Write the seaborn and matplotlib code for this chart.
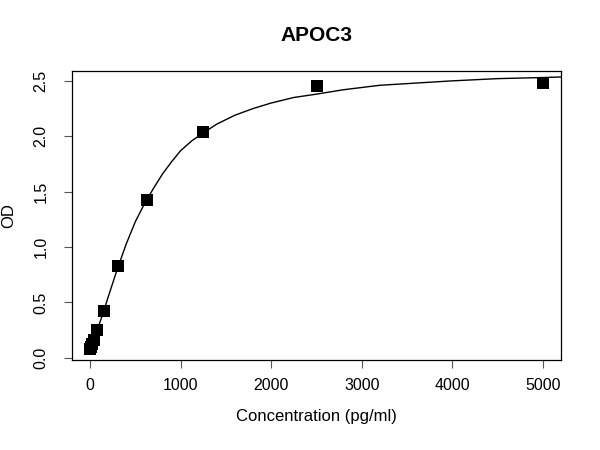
import matplotlib
matplotlib.use("Agg")
import matplotlib.pyplot as plt
import seaborn as sns
import pandas as pd

# standard points (pg/ml) and measured OD
conc = [0, 9.77, 19.53, 39.06, 78.13, 156.25, 312.5, 625, 1250, 2500, 5000]
od = [0.08, 0.10, 0.12, 0.16, 0.25, 0.42, 0.83, 1.42, 2.04, 2.45, 2.48]

# fitted curve
curve_x = [0, 50, 100, 150, 200, 300, 400, 500, 600, 700, 800, 900, 1000,
           1125, 1250, 1400, 1600, 1800, 2000, 2250, 2500, 2800, 3200, 3600,
           4000, 4500, 5000, 5200]
curve_y = [0.08, 0.19, 0.30, 0.42, 0.55, 0.80, 1.03, 1.23, 1.39, 1.53, 1.66,
           1.77, 1.87, 1.96, 2.03, 2.11, 2.19, 2.25, 2.30, 2.35, 2.38, 2.42,
           2.46, 2.48, 2.50, 2.52, 2.53, 2.535]

x_ticks = [0, 1000, 2000, 3000, 4000, 5000]
y_ticks = [0.0, 0.5, 1.0, 1.5, 2.0, 2.5]

sns.set_style("ticks")
plt.rcParams["font.family"] = ["Liberation Sans", "DejaVu Sans"]
plt.rcParams["text.color"] = "black"
plt.rcParams["axes.labelcolor"] = "black"
plt.rcParams["xtick.color"] = "black"
plt.rcParams["ytick.color"] = "black"

pts = pd.DataFrame({"conc": conc, "od": od})
fit = pd.DataFrame({"conc": curve_x, "od": curve_y})

fig = plt.figure(figsize=(6, 4.5), dpi=100)
ax = fig.add_axes([0.12, 0.201, 0.815, 0.641])

sns.lineplot(data=fit, x="conc", y="od", ax=ax, color="black", linewidth=1,
             sort=False, estimator=None)
sns.scatterplot(data=pts, x="conc", y="od", ax=ax, marker="s", s=64,
                color="black", edgecolor="black", linewidth=0, zorder=3)

ax.set_xlim(-200, 5200)
ax.set_ylim(-0.016, 2.588)
ax.set_xticks(x_ticks)
ax.set_xticklabels([str(v) for v in x_ticks])
ax.set_yticks(y_ticks)
ax.set_yticklabels([f"{v:.1f}" for v in y_ticks], rotation=90, va="center")

for sp in ax.spines.values():
    sp.set_visible(True)
    sp.set_color("black")
    sp.set_linewidth(0.9)

ax.tick_params(axis="both", length=6, width=0.8, color="#555555",
               labelcolor="black", labelsize=11.5, direction="out")
ax.tick_params(axis="x", pad=7)
ax.tick_params(axis="y", pad=11)

ax.set_xlabel("Concentration (pg/ml)", fontsize=12, labelpad=12, color="black")
ax.set_ylabel("OD", fontsize=12, labelpad=12, color="black")
ax.set_title("APOC3", fontsize=15, fontweight="bold", pad=22, color="black")

fig.savefig("out.png", dpi=100)
